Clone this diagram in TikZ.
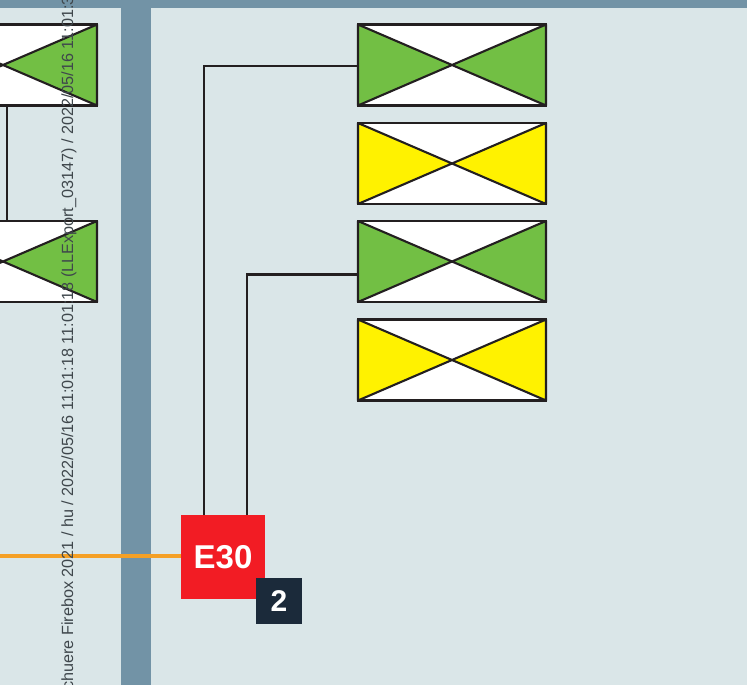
\documentclass[tikz,border=0pt]{standalone}
\usepackage{xcolor}
\usepackage{fontspec}
\setmainfont{Liberation Sans}
\usetikzlibrary{calc}
\definecolor{panel}{HTML}{DAE6E8}
\definecolor{band}{HTML}{7293A6}
\definecolor{wirecol}{HTML}{231F20}
\definecolor{ventgreen}{HTML}{72BF44}
\definecolor{ventyellow}{HTML}{FFF200}
\definecolor{alarmred}{HTML}{F21C24}
\definecolor{tagdark}{HTML}{1B2A3A}
\definecolor{feed}{HTML}{F5A025}
\definecolor{stamp}{HTML}{3F474C}
\tikzset{
  ventbox/.style={draw=wirecol, fill=white, line width=2.1pt, rectangle, inner sep=0pt, outer sep=0pt,
    minimum width=188pt, minimum height=81pt},
  bow/.style={draw=wirecol, line width=2.1pt, line join=round},
  wire/.style={draw=wirecol, line width=2.4pt},
  feedline/.style={draw=feed, line width=4pt},
  alarm/.style={fill=alarmred, text=white, inner sep=0pt, outer sep=0pt, minimum size=84pt,
    font=\fontsize{33}{33}\selectfont\bfseries},
  tag/.style={fill=tagdark, text=white, inner sep=0pt, outer sep=0pt, minimum size=46pt,
    font=\fontsize{30}{30}\selectfont\bfseries},
  stampnote/.style={text=stamp, font=\fontsize{16.2}{16.2}\selectfont, rotate=90, inner sep=0pt}
}
\newcommand{\VentBox}[3]{%
  % #1 = node name, #2 = centre, #3 = fill of the two side triangles
  \node[ventbox] (#1) at #2 {};
  \draw[bow, fill=#3] (#1.north west)--(#1.center)--(#1.south west)--cycle;
  \draw[bow, fill=#3] (#1.north east)--(#1.center)--(#1.south east)--cycle;
}

\begin{document}
\begin{tikzpicture}[x=1pt, y=-1pt, line cap=butt]
  \useasboundingbox (0,0) rectangle (747,685);
  \clip (0,0) rectangle (747,685);
  \fill[panel] (0,0) rectangle (747,685);
  \fill[band] (0,0) rectangle (747,8);
  \fill[band] (121,8) rectangle (151,685);
  % left column, cut by the edge
  \VentBox{ventA}{(3,65)}{ventgreen}
  \VentBox{ventB}{(3,261.5)}{ventgreen}
  \coordinate (linkA) at (7,0 |- ventA.south);
  \draw[wire] (linkA) -- (linkA |- ventB.north);
  % right column
  \VentBox{ventC}{(452,65)}{ventgreen}
  \VentBox{ventD}{(452,163.5)}{ventyellow}
  \VentBox{ventE}{(452,261.5)}{ventgreen}
  \VentBox{ventF}{(452,360)}{ventyellow}
  \node[alarm] (e30) at (223,557) {E30};
  \node[tag] (num) at (279,601) {2};
  \coordinate (kneeC) at (203.7,66);
  \coordinate (kneeE) at (247.2,274.4);
  \coordinate (feedL) at (0,556.2);
  \draw[wire] (e30.north -| kneeC) -- (kneeC) -- (kneeC -| ventC.west);
  \draw[wire] (e30.north -| kneeE) -- (kneeE) -- (kneeE -| ventE.west);
  \draw[feedline] (feedL) -- (feedL -| e30.west);
  \node[stampnote, anchor=base west] (stamp) at (73.2,690) {chuere Firebox 2021 / hu / 2022/05/16 11:01:18 11:01:18 (LLExport\_03147) / 2022/05/16 11:01:3};
\end{tikzpicture}
\end{document}
